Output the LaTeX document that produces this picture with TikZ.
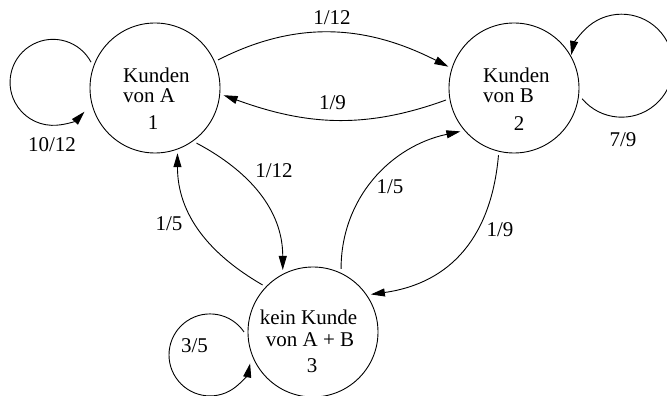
\documentclass[tikz,border=0pt]{standalone}
\usepackage{fontspec}
\setmainfont{Liberation Serif}
\usetikzlibrary{arrows.meta}

\begin{document}
\begin{tikzpicture}[x=1pt,y=1pt,
  state/.style={circle,draw,line width=0.9pt,minimum size=130pt,inner sep=0pt,outer sep=4pt},
  lbl/.style={font=\fontsize{21}{21}\selectfont,inner sep=0pt},
  edge/.style={line width=0.9pt,-{Triangle[length=14pt,width=8pt]}},
]
\useasboundingbox (0,0) rectangle (667,396);

% states
\node[state] (A) at (155,308) {};
\node[state] (B) at (514,308) {};
\node[state] (C) at (313,64) {};

% state texts
\node[lbl,anchor=base west] (A1) at (123,313) {Kunden};
\node[lbl,anchor=base west] (A2) at (123,293) {von A};
\node[lbl,anchor=base] (A3) at (153,266) {1};
\node[lbl,anchor=base west] (B1) at (483,313) {Kunden};
\node[lbl,anchor=base west] (B2) at (483,293) {von B};
\node[lbl,anchor=base] (B3) at (519,265) {2};
\node[lbl,anchor=base] (C1) at (308.5,71) {kein Kunde};
\node[lbl,anchor=base] (C2) at (310,49) {von A + B};
\node[lbl,anchor=base] (C3) at (312,23) {3};

% transitions between states
\draw[edge] (A.24) to[out=27,in=153] (B.162);
\draw[edge] (B.190) to[out=200,in=-20] (A.-6);
\draw[edge] (A.-53) to[out=-28,in=90] (C.116);
\draw[edge] (C.137) to[out=150,in=270] (A.-71);
\draw[edge] (C.66) to[out=90,in=192] (B.219);
\draw[edge] (B.257) to[out=265,in=8,looseness=1.1] (C.33);

% self loops
\draw[edge] (A.158) arc[start angle=28,end angle=317,radius=43];
\draw[edge] (B.-9) arc[start angle=220,end angle=528,radius=51.5];
\draw[edge] (C.180) arc[start angle=34,end angle=348,radius=41];

% transition probabilities
\node[lbl,anchor=base] (pAB) at (332,371) {1/12};
\node[lbl,anchor=base] (pBA) at (332.5,286) {1/9};
\node[lbl,anchor=base] (pAA) at (52,244) {10/12};
\node[lbl,anchor=base] (pBB) at (623,249) {7/9};
\node[lbl,anchor=base] (pAC) at (274,218) {1/12};
\node[lbl,anchor=base] (pCA) at (169,165) {1/5};
\node[lbl,anchor=base] (pCB) at (390,202) {1/5};
\node[lbl,anchor=base] (pBC) at (500,159) {1/9};
\node[lbl,anchor=base] (pCC) at (194.5,43) {3/5};
\end{tikzpicture}
\end{document}
